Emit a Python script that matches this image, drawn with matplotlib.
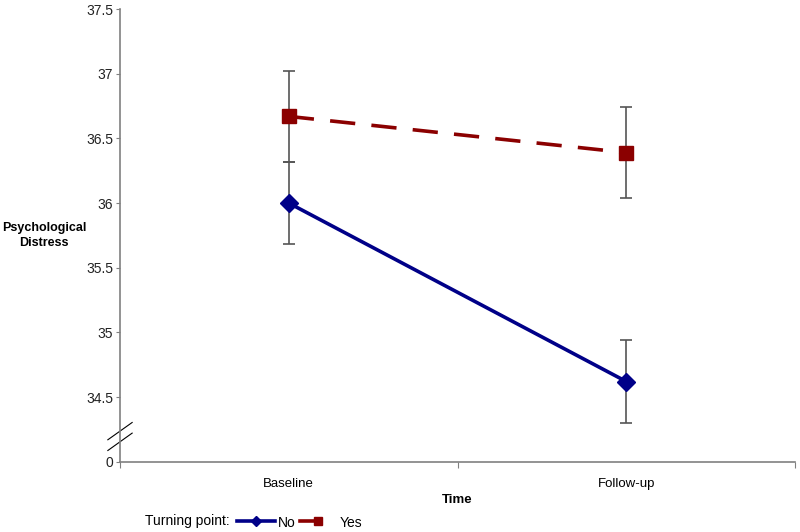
import matplotlib.pyplot as plt
from matplotlib.lines import Line2D

plt.rcParams['font.family'] = ['Liberation Sans', 'DejaVu Sans']

# data
times = ['Baseline', 'Follow-up']
no_mean = [36.0, 34.62]
no_err = [0.32, 0.32]
yes_mean = [36.67, 36.39]
yes_err = [0.35, 0.35]
ytick_vals = [34.0, 34.5, 35.0, 35.5, 36.0, 36.5, 37.0, 37.5]
ytick_labels = ['0', '34.5', '35', '35.5', '36', '36.5', '37', '37.5']

navy = '#000088'
darkred = '#8B0000'
grey = '#808080'

W, H = 800, 532
fig = plt.figure(figsize=(8, 5.32), dpi=100)
ax = fig.add_axes([0.15, 0.132, 0.844, 0.851])

xpos = [0.5, 1.5]

ax.errorbar(xpos, yes_mean, yerr=yes_err, fmt='none', ecolor='#555555',
            elinewidth=1.2, capsize=4, capthick=1.2, zorder=2)
ax.errorbar(xpos, no_mean, yerr=no_err, fmt='none', ecolor='#555555',
            elinewidth=1.2, capsize=4, capthick=1.2, zorder=2)

ax.plot(xpos, no_mean, color=navy, lw=2.6, marker='D', markersize=9,
        zorder=3)
ax.plot(xpos, yes_mean, color=darkred, lw=2.6, linestyle=(0, (7, 4.5)),
        marker='s', markersize=10, zorder=3)

ax.set_xlim(0, 2)
ax.set_ylim(34.0, 37.5)
ax.set_yticks(ytick_vals)
ax.set_yticklabels(ytick_labels)
ax.set_xticks([0, 1, 2])
ax.set_xticklabels(['', '', ''])
ax.set_xticks(xpos, minor=True)
ax.set_xticklabels(times, minor=True)
ax.tick_params(axis='x', which='minor', length=0, pad=12, labelsize=9.5,
               colors='black')
ax.tick_params(axis='x', which='major', length=4, color=grey, direction='out')
ax.tick_params(axis='y', length=3, color=grey, labelsize=10, pad=2,
               labelcolor='#222222')

for side in ['top', 'right']:
    ax.spines[side].set_visible(False)
for side in ['left', 'bottom']:
    ax.spines[side].set_color(grey)
    ax.spines[side].set_linewidth(1.2)

# axis break marks
for y0, y1 in [(0.0486, 0.0868), (0.0249, 0.0633)]:
    ax.plot([-0.018, 0.018], [y0, y1], transform=ax.transAxes,
            color='black', lw=0.8, clip_on=False)

fig.text(0.055, 0.557, 'Psychological\nDistress', ha='center', va='center',
         fontsize=9, fontweight='bold', linespacing=1.4)
fig.text(0.572, 0.06, 'Time', ha='center', va='center', fontsize=9.5,
         fontweight='bold')

# legend row at the bottom
ly = 1 - 521 / H
fig.text(145 / W, ly, 'Turning point:', ha='left', va='center', fontsize=10)
fig.add_artist(Line2D([237 / W, 275 / W], [ly, ly], color=navy, lw=2.6))
fig.add_artist(Line2D([256 / W], [ly], color=navy, marker='D', markersize=5))
fig.text(278 / W, ly - 0.004, 'No', ha='left', va='center', fontsize=10)
fig.add_artist(Line2D([300 / W, 318 / W], [ly, ly], color=darkred, lw=2.6))
fig.add_artist(Line2D([318 / W], [ly], color=darkred, marker='s',
                      markersize=6))
fig.text(340 / W, ly - 0.004, 'Yes', ha='left', va='center', fontsize=10)

fig.savefig('out.png', dpi=100, facecolor='white')
